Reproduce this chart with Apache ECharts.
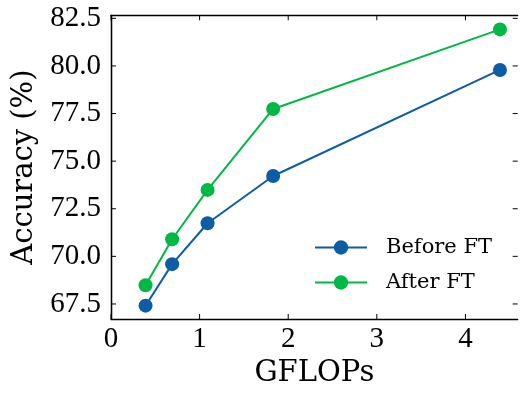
<!DOCTYPE html>
<html>
<head>
<meta charset="utf-8">
<script src="https://cdn.jsdelivr.net/npm/echarts@6/dist/echarts.min.js"></script>
<style>html,body{margin:0;padding:0;background:#fff}#c{width:524px;height:397px}</style>
</head>
<body>
<div id="c"></div>
<script>
var gflops = [0.39, 0.69, 1.09, 1.83, 4.39];
var beforeFT = [67.41, 69.59, 71.74, 74.22, 79.79];
var afterFT = [68.48, 70.90, 73.49, 77.74, 81.92];
var xTicks = [0, 1, 2, 3, 4];
var yTicks = [67.5, 70.0, 72.5, 75.0, 77.5, 80.0, 82.5];
var seriesNames = ['Before FT', 'After FT'];
var colors = ['#0C5DA5', '#00B945'];

var XMIN = 0, XMAX = 4.59, YMIN = 66.71, YMAX = 82.66;
var TICK_LEN = 5;
var tickFont = 'Liberation Serif';
var nameFont = 'DejaVu Serif';

function pairs(xs, ys) { return xs.map(function (x, i) { return [x, ys[i]]; }); }

var frameLine = { show: true, lineStyle: { color: '#000', width: 1.3 } };
var tickStyle = { stroke: '#000', lineWidth: 1 };

function tickSeries(values, isX) {
  return {
    type: 'custom', silent: true, clip: false, z: 5,
    data: values.map(function (v) { return [v]; }),
    encode: isX ? { x: 0 } : { y: 0 },
    renderItem: function (params, api) {
      var v = api.value(0), a, b;
      if (isX) {
        a = api.coord([v, YMIN]); b = api.coord([v, YMAX]);
        return { type: 'group', children: [
          { type: 'line', shape: { x1: a[0], y1: a[1], x2: a[0], y2: a[1] - TICK_LEN }, style: tickStyle },
          { type: 'line', shape: { x1: b[0], y1: b[1], x2: b[0], y2: b[1] + TICK_LEN }, style: tickStyle }
        ] };
      }
      a = api.coord([XMIN, v]); b = api.coord([XMAX, v]);
      return { type: 'group', children: [
        { type: 'line', shape: { x1: a[0], y1: a[1], x2: a[0] + TICK_LEN, y2: a[1] }, style: tickStyle },
        { type: 'line', shape: { x1: b[0], y1: b[1], x2: b[0] - TICK_LEN, y2: b[1] }, style: tickStyle }
      ] };
    }
  };
}

var chart = echarts.init(document.getElementById('c'), null, { renderer: 'canvas' });
chart.setOption({
  animation: false,
  backgroundColor: '#fff',
  grid: { left: 111, right: 6.3, top: 15.3, bottom: 78, containLabel: false },
  legend: {
    orient: 'vertical',
    left: 309, top: 232,
    itemWidth: 52, itemHeight: 18, itemGap: 14,
    data: seriesNames,
    textStyle: { fontFamily: nameFont, fontSize: 21, color: '#000', lineHeight: 21, padding: [0, 0, 0, 14] }
  },
  xAxis: [{
    type: 'value', min: XMIN, max: XMAX, position: 'bottom',
    name: 'GFLOPs', nameLocation: 'middle', nameGap: 38,
    nameTextStyle: { fontFamily: nameFont, fontSize: 29, color: '#000', lineHeight: 29 },
    axisLine: frameLine,
    axisTick: { show: false },
    axisLabel: { customValues: xTicks, fontFamily: tickFont, fontSize: 29, color: '#000', margin: 6,
      formatter: function (v) { return String(v); } },
    splitLine: { show: false }
  }, {
    type: 'value', min: XMIN, max: XMAX, position: 'top',
    axisLine: frameLine, axisTick: { show: false }, axisLabel: { show: false }, splitLine: { show: false }
  }],
  yAxis: [{
    type: 'value', min: YMIN, max: YMAX, position: 'left',
    name: 'Accuracy (%)', nameLocation: 'middle', nameGap: 72, nameRotate: 90,
    nameTextStyle: { fontFamily: nameFont, fontSize: 29, color: '#000', lineHeight: 29 },
    axisLine: frameLine,
    axisTick: { show: false },
    axisLabel: { customValues: yTicks, fontFamily: tickFont, fontSize: 29, color: '#000', margin: 10,
      formatter: function (v) { return v.toFixed(1); } },
    splitLine: { show: false }
  }, {
    type: 'value', min: YMIN, max: YMAX, position: 'right',
    axisLine: frameLine, axisTick: { show: false }, axisLabel: { show: false }, splitLine: { show: false }
  }],
  series: [{
    name: seriesNames[0], type: 'line', data: pairs(gflops, beforeFT),
    symbol: 'circle', symbolSize: 14,
    itemStyle: { color: colors[0] }, lineStyle: { color: colors[0], width: 2 }
  }, {
    name: seriesNames[1], type: 'line', data: pairs(gflops, afterFT),
    symbol: 'circle', symbolSize: 14,
    itemStyle: { color: colors[1] }, lineStyle: { color: colors[1], width: 2 }
  }, tickSeries(xTicks, true), tickSeries(yTicks, false)]
});
</script>
</body>
</html>
